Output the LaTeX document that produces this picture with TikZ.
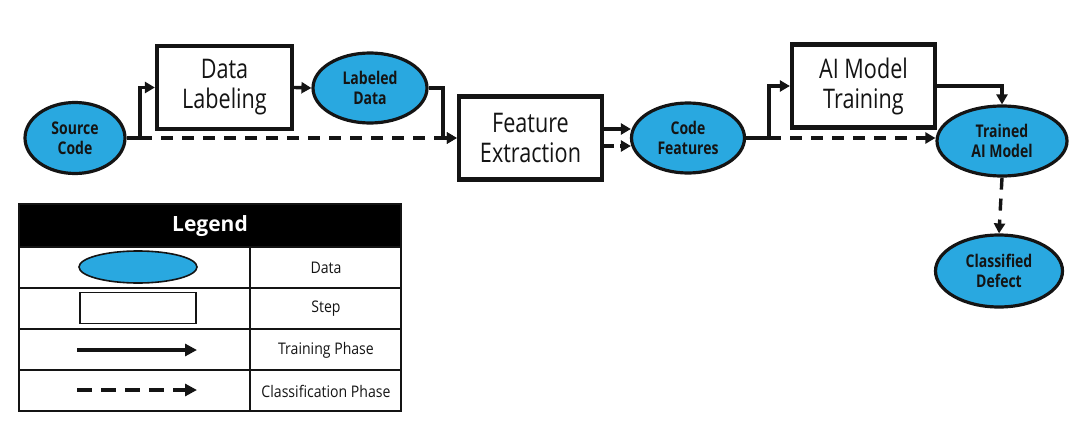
\documentclass[tikz,border=0pt]{standalone}
\usepackage{fontspec}
\setmainfont{Open Sans}
\newfontfamily\narrowfont[FakeStretch=0.8]{Open Sans}
\newfontfamily\legfont[FakeStretch=0.88]{Open Sans}
\usetikzlibrary{arrows.meta,shapes.geometric}
\definecolor{datablue}{RGB}{41,168,224}
\definecolor{inkc}{RGB}{20,20,20}
\begin{document}
\begin{tikzpicture}[x=1pt,y=-1pt,
  data/.style={ellipse, draw=inkc, line width=3.2pt, fill=datablue, inner sep=0pt,
    text=inkc, font=\narrowfont\bfseries\fontsize{17.5}{20}\selectfont, align=center},
  stepbox/.style={rectangle, draw=inkc, line width=4.2pt, fill=white, inner sep=0pt,
    text=inkc, font=\narrowfont\fontsize{27}{30}\selectfont, align=center,
    minimum width=143pt, minimum height=83pt},
  train/.style={draw=inkc, line width=3.4pt, -{Triangle[length=10pt,width=11pt]}},
  cls/.style={train, dash pattern=on 12pt off 9pt},
  legtext/.style={text=inkc, font=\legfont\fontsize{16}{18}\selectfont},
  grid/.style={draw=inkc, line width=1.6pt}
]
\useasboundingbox (0,0) rectangle (1083,444);

% main flow nodes
\node[data, minimum width=100pt, minimum height=71pt] (src) at (75,138) {Source\\Code};
\node[stepbox, minimum width=135pt] (dl) at (224.5,87.5) {Data\\Labeling};
\node[data, minimum width=114pt, minimum height=70pt] (ld) at (370,88) {Labeled\\Data};
\node[stepbox] (fe) at (530.5,138) {Feature\\Extraction};
\node[data, minimum width=113pt, minimum height=70pt] (cf) at (688,138) {Code\\Features};
\node[stepbox] (ai) at (863.5,86) {AI Model\\Training};
\node[data, minimum width=130pt, minimum height=70pt] (tm) at (1002,141) {Trained\\AI Model};
\node[data, minimum width=127pt, minimum height=72pt] (cd) at (999,271) {Classified\\Defect};

% junctions
\coordinate (j1) at (140,138);
\coordinate (j2) at (443,88);
\coordinate (j3) at (769,138);
\coordinate (fo1) at ([yshift=9pt]fe.east);
\coordinate (fo2) at ([yshift=-8pt]fe.east);

% connectors
\draw[train] (src.east) -- (j1) |- (dl.west);
\draw[cls] (j1) -- (j1 -| fe.west);
\draw[train] (dl.east) -- (ld.west);
\draw[train] (ld.east) -- (j2) |- (fe.west);
\draw[train] (fo1) -- ([xshift=1pt]fo1 -| cf.west);
\draw[train, dash pattern=on 10pt off 6pt] (fo2) -- ([xshift=1pt]fo2 -| cf.west);
\draw[train] (cf.east) -- (j3) |- (ai.west);
\draw[cls] (j3) -- (j3 -| tm.west);
\draw[train] (ai.east) -| (tm.north);
\draw[cls] (tm.south) -- (cd.north);

% legend table
\fill[black] (19,204) rectangle (401,247);
\draw[grid] (19,204) rectangle (401,411);
\foreach \yy in {247,288,329,370} \draw[grid] (19,\yy) -- (401,\yy);
\draw[grid] (250,247) -- (250,411);
\node[text=white, font=\bfseries\fontsize{21}{24}\selectfont] (lgh) at (210,226) {Legend};

\node[ellipse, draw=inkc, line width=1.6pt, fill=datablue, minimum width=118pt, minimum height=32pt, inner sep=0pt] (lge) at (138,267) {};
\node[rectangle, draw=inkc, line width=1.6pt, fill=white, minimum width=116pt, minimum height=31pt, inner sep=0pt] (lgr) at (138,308) {};
\coordinate (la1) at (77,350);
\coordinate (la2) at (197,350);
\coordinate (lb1) at (77,390);
\coordinate (lb2) at (197,390);
\draw[draw=inkc, line width=4pt, -{Triangle[length=12pt,width=12pt]}] (la1) -- (la2);
\draw[draw=inkc, line width=4pt, dash pattern=on 15pt off 9pt, -{Triangle[length=12pt,width=12pt]}] (lb1) -- (lb2);

\node[legtext] (t1) at (326,268) {Data};
\node[legtext] (t2) at (326,309) {Step};
\node[legtext] (t3) at (326,350) {Training Phase};
\node[legtext] (t4) at (326,391) {Classification Phase};
\end{tikzpicture}
\end{document}
